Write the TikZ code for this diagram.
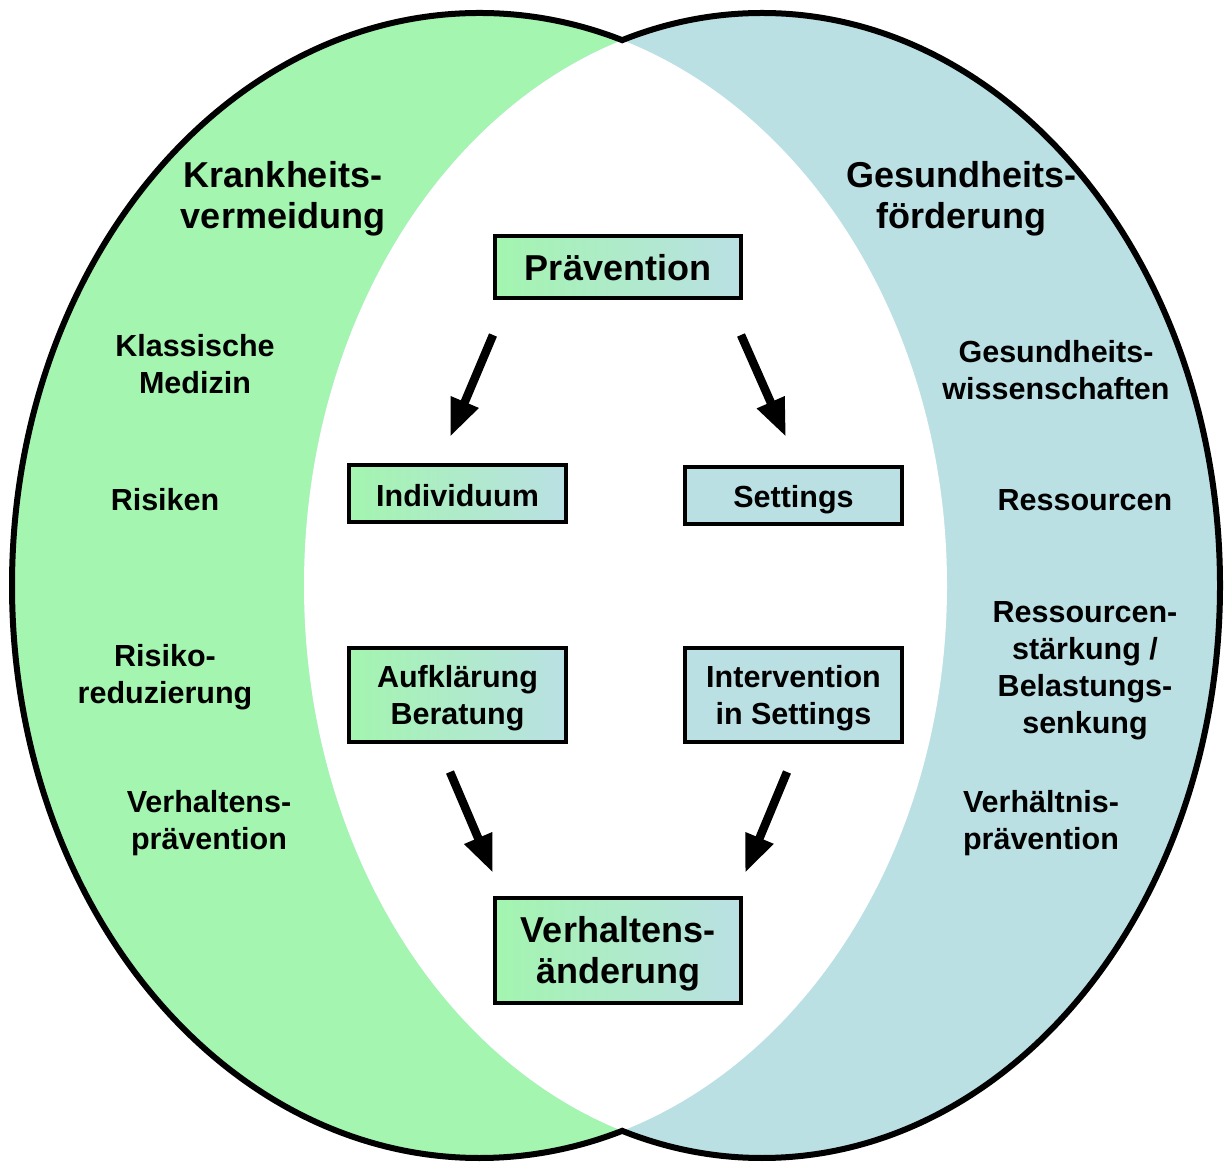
\documentclass[tikz,border=0pt]{standalone}
\usepackage{fontspec}
\setmainfont{Liberation Sans}
\usetikzlibrary{arrows.meta}
\definecolor{vgreen}{RGB}{163,245,175}
\definecolor{vblue}{RGB}{186,224,228}
\begin{document}
\begin{tikzpicture}[x=1pt,y=1pt,
  big/.style={font=\fontsize{36}{41}\selectfont\bfseries, align=center, inner sep=0pt},
  small/.style={font=\fontsize{30.5}{37}\selectfont\bfseries, align=center, inner sep=0pt},
  gbox/.style={draw=black, line width=4pt, left color=vgreen, right color=vblue, inner sep=0pt},
  bbox/.style={draw=black, line width=4pt, fill=vblue, inner sep=0pt},
  bigarrow/.style={line width=8.5pt, -{Triangle[length=38pt,width=28pt]}},
  rim/.style={line width=6pt, draw=black}
]
\useasboundingbox (0,0) rectangle (1225,1167);
% ellipses
\fill[vgreen] (479.5,581.5) ellipse [x radius=467.5, y radius=572.5];
\fill[vblue] (762,581.5) ellipse [x radius=458, y radius=572.5];
\begin{scope}
  \clip (479.5,581.5) ellipse [x radius=467.5, y radius=572.5];
  \fill[white] (762,581.5) ellipse [x radius=458, y radius=572.5];
\end{scope}
\begin{scope}
  \clip (-10,-10) rectangle (622.2,1180);
  \draw[rim] (479.5,581.5) ellipse [x radius=467.5, y radius=572.5];
\end{scope}
\begin{scope}
  \clip (622.2,-10) rectangle (1240,1180);
  \draw[rim] (762,581.5) ellipse [x radius=458, y radius=572.5];
\end{scope}

% boxes
\node[gbox, minimum width=246pt, minimum height=62pt,
      label={[big,yshift=-1pt]center:Prävention}] (prav) at (618,900) {};
\node[gbox, minimum width=217pt, minimum height=57pt,
      label={[small,yshift=-2.5pt]center:Individuum}] (ind) at (457.5,673.5) {};
\node[bbox, minimum width=217pt, minimum height=57pt,
      label={[small,yshift=-4pt]center:Settings}] (sett) at (793.5,671.5) {};
\node[gbox, minimum width=217pt, minimum height=94pt,
      label={[small,yshift=-3.5pt]center:Aufklärung\\Beratung}] (aufk) at (457.5,472) {};
\node[bbox, minimum width=217pt, minimum height=94pt,
      label={[small,yshift=-3.5pt]center:Intervention\\in Settings}] (interv) at (793.5,472) {};
\node[gbox, minimum width=246pt, minimum height=105pt,
      label={[big,yshift=-3.5pt]center:Verhaltens-\\änderung}] (verh) at (618,216.5) {};

% side texts
\node[big] (kv) at (283,968.5) {Krankheits-\\vermeidung};
\node[big] (gf) at (961,968.5) {Gesundheits-\\förderung};
\node[small] (km) at (195,802.5) {Klassische\\Medizin};
\node[small] (ri) at (165,667) {Risiken};
\node[small] (rr) at (165,489.5) {Risiko-\\reduzierung};
\node[small] (vp) at (209,343.5) {Verhaltens-\\prävention};
\node[small] (gw) at (1056,797) {Gesundheits-\\wissenschaften};
\node[small] (rs) at (1085,667) {Ressourcen};
\node[small] (rst) at (1085,496.5) {Ressourcen-\\stärkung /\\Belastungs-\\senkung};
\node[small] (vhp) at (1041,343.5) {Verhältnis-\\prävention};

% arrows
\coordinate (a1s) at (493,832); \coordinate (a1e) at (450,730);
\coordinate (a2s) at (741,832); \coordinate (a2e) at (786,730);
\coordinate (a3s) at (450,395); \coordinate (a3e) at (493,294);
\coordinate (a4s) at (787,395); \coordinate (a4e) at (745,294);
\draw[bigarrow] (a1s) -- (a1e);
\draw[bigarrow] (a2s) -- (a2e);
\draw[bigarrow] (a3s) -- (a3e);
\draw[bigarrow] (a4s) -- (a4e);
\end{tikzpicture}
\end{document}
